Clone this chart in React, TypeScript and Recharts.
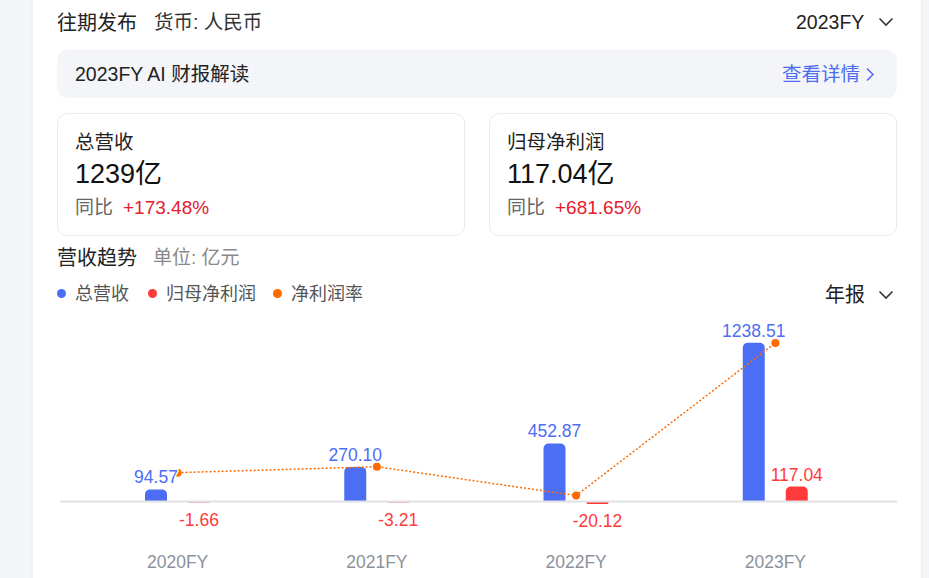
import React from "react"
import { ComposedChart, Bar, Line, XAxis, YAxis, ReferenceLine, LabelList } from "recharts"

const years = ["2020FY", "2021FY", "2022FY", "2023FY"]
const revenue = [94.57, 270.1, 452.87, 1238.51]
const netProfit = [-1.66, -3.21, -20.12, 117.04]
// net margin (%)
const netMargin = [-2.0, -1.47, -4.04, 9.56]

const BLUE = "#4c6ef5"
const RED = "#ff3a3a"
const ORANGE = "#ff6a00"
const FONT = "'Liberation Sans', Arial, 'Noto Sans CJK SC', sans-serif"

const chartData = years.map((year, i) => ({
  year,
  revenue: revenue[i],
  profit: netProfit[i],
  margin: netMargin[i],
}))

const fmt = (v: number) => v.toFixed(2)

const makeLabel = (color: string) => (props: any) => {
  const { x, y, width, height, value } = props
  const top = Math.min(y, y + height)
  const bottom = Math.max(y, y + height)
  const cx = x + width / 2
  const ty = value >= 0 ? top - 6 : bottom + 23
  return (
    <text
      x={cx}
      y={ty}
      textAnchor="middle"
      fill={color}
      stroke="#fff"
      strokeWidth={3}
      paintOrder="stroke"
      fontSize={17.5}
      fontFamily={FONT}
    >
      {fmt(Number(value))}
    </text>
  )
}

const Chevron = ({ x, y }: { x: number; y: number }) => (
  <svg width="16" height="10" style={{ position: "absolute", left: x, top: y }}>
    <polyline points="1.5,1.5 8,8 14.5,1.5" fill="none" stroke="#333" strokeWidth="1.6" />
  </svg>
)

// text block positioned by its vertical centre
const T = ({
  x,
  cy,
  size,
  color,
  children,
}: {
  x: number
  cy: number
  size: number
  color: string
  children: React.ReactNode
}) => (
  <div
    style={{
      position: "absolute",
      left: x,
      top: cy + 1.5 - size / 2,
      fontSize: size,
      lineHeight: `${size}px`,
      color,
      whiteSpace: "nowrap",
    }}
  >
    {children}
  </div>
)

export default function App() {
  return (
    <div
      style={{
        position: "absolute",
        left: 0,
        top: 0,
        width: 929,
        height: 578,
        background: "#f4f5f7",
        overflow: "hidden",
        fontFamily: FONT,
        color: "#222",
      }}
    >
      {/* white card */}
      <div
        style={{
          position: "absolute",
          left: 33,
          top: -20,
          width: 888,
          height: 620,
          background: "#fff",
          boxShadow: "0 0 4px rgba(0,0,0,0.06)",
        }}
      />

      <T x={57} cy={21} size={20} color="#222">往期发布</T>
      <T x={154} cy={21} size={19.5} color="#333">货币: 人民币</T>
      <T x={796} cy={21} size={19.5} color="#222">2023FY</T>
      <Chevron x={878} y={17} />

      {/* AI box */}
      <div
        style={{
          position: "absolute",
          left: 57,
          top: 50,
          width: 840,
          height: 48,
          borderRadius: 10,
          background: "#f4f5f9",
        }}
      />
      <T x={75} cy={73} size={19.5} color="#222">2023FY AI 财报解读</T>
      <T x={782} cy={73} size={19.5} color="#4d6cf0">查看详情</T>
      <svg width="10" height="16" style={{ position: "absolute", left: 865, top: 67 }}>
        <polyline points="2,1.5 8,7.5 2,13.5" fill="none" stroke="#4d6cf0" strokeWidth="1.5" />
      </svg>

      {/* metric cards */}
      {[57, 489].map((left) => (
        <div
          key={left}
          style={{
            position: "absolute",
            left,
            top: 113,
            width: 408,
            height: 123,
            border: "1px solid #ebebeb",
            borderRadius: 10,
            boxSizing: "border-box",
          }}
        />
      ))}
      <T x={75} cy={141} size={19.5} color="#222">总营收</T>
      <T x={75} cy={173} size={27} color="#111">1239亿</T>
      <T x={75} cy={206} size={19} color="#666">
        同比<span style={{ color: "#e5202e", marginLeft: 10 }}>+173.48%</span>
      </T>
      <T x={507} cy={141} size={19.5} color="#222">归母净利润</T>
      <T x={507} cy={173} size={27} color="#111">117.04亿</T>
      <T x={507} cy={206} size={19} color="#666">
        同比<span style={{ color: "#e5202e", marginLeft: 10 }}>+681.65%</span>
      </T>

      <T x={57} cy={256} size={20} color="#222">营收趋势</T>
      <T x={153} cy={256} size={19} color="#888">单位: 亿元</T>

      {/* legend */}
      {[
        { x: 61, color: BLUE, label: "总营收", tx: 75 },
        { x: 152, color: RED, label: "归母净利润", tx: 166 },
        { x: 277, color: ORANGE, label: "净利润率", tx: 291 },
      ].map((l) => (
        <React.Fragment key={l.label}>
          <span
            style={{
              position: "absolute",
              left: l.x - 4.5,
              top: 293 - 4.5,
              width: 9,
              height: 9,
              borderRadius: "50%",
              background: l.color,
            }}
          />
          <T x={l.tx} cy={292} size={18} color="#555">{l.label}</T>
        </React.Fragment>
      ))}
      <T x={825} cy={293} size={20} color="#222">年报</T>
      <Chevron x={878} y={290} />

      <div style={{ position: "absolute", left: 0, top: 300 }}>
        <ComposedChart
          width={929}
          height={278}
          data={chartData}
          margin={{ top: 22, right: 32, left: 60, bottom: 0 }}
          barSize={22}
          barGap={21}
        >
          <XAxis
            dataKey="year"
            axisLine={false}
            tickLine={false}
            height={38}
            tickMargin={10}
            padding={{ left: 18, right: 22 }}
            tick={{ fontSize: 17.5, fill: "#8c919a", fontFamily: FONT }}
            interval={0}
          />
          <YAxis yAxisId="left" hide domain={[-300, 1400]} allowDataOverflow />
          <YAxis yAxisId="right" orientation="right" hide domain={[-8, 11.42]} allowDataOverflow />
          <ReferenceLine yAxisId="left" y={0} stroke="#e1e2e5" strokeWidth={2} />
          <Bar
            yAxisId="left"
            dataKey="revenue"
            fill={BLUE}
            radius={[5, 5, 0, 0]}
            minPointSize={1}
            isAnimationActive={false}
          >
            <LabelList dataKey="revenue" content={makeLabel(BLUE)} />
          </Bar>
          <Bar
            yAxisId="left"
            dataKey="profit"
            fill={RED}
            radius={[5, 5, 0, 0]}
            minPointSize={1}
            isAnimationActive={false}
          >
            <LabelList dataKey="profit" content={makeLabel(RED)} />
          </Bar>
          <Line
            yAxisId="right"
            type="linear"
            dataKey="margin"
            stroke={ORANGE}
            strokeWidth={1.5}
            strokeDasharray="2 2"
            dot={{ r: 4, fill: ORANGE, stroke: "none" }}
            activeDot={false}
            isAnimationActive={false}
          />
        </ComposedChart>
      </div>
    </div>
  )
}
